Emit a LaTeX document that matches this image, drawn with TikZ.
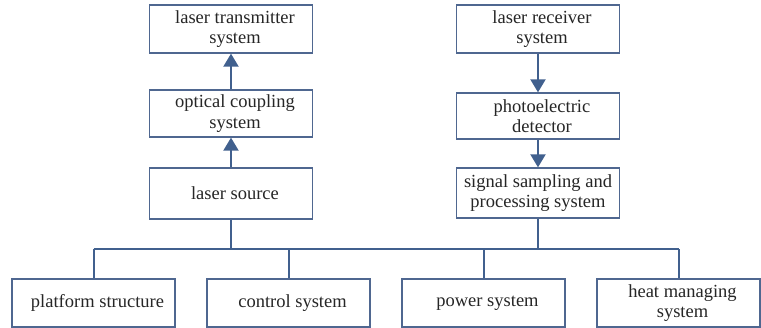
\documentclass[tikz,border=0pt]{standalone}
\usepackage{fontspec}
\setmainfont{Liberation Serif}
\newfontfamily\blockfont{Liberation Serif}
\usetikzlibrary{arrows.meta}
\definecolor{boxline}{HTML}{4F6790}
\definecolor{linkline}{HTML}{41608E}
% text inside the boxes sits a little right of centre
\newcommand{\ind}{\hspace*{8pt}}
\tikzset{
  block/.style={draw=boxline, line width=1.3pt, fill=white, inner sep=0pt,
    minimum width=163pt, align=center, text=black!85,
    font=\blockfont\fontsize{18.5}{20.5}\selectfont},
  link/.style={draw=linkline, line width=2pt},
  flow/.style={link, -{Triangle[width=15pt,length=13pt]}},
}
\begin{document}
\begin{tikzpicture}[x=1pt,y=-1pt]
\useasboundingbox (0,0) rectangle (761,328);

% transmitting chain
\node[block, minimum height=48pt] (tx) at (231,29)    {\ind laser transmitter\\\ind system};
\node[block, minimum height=47pt] (oc) at (231,113.5) {\ind optical coupling\\\ind system};
\node[block, minimum height=51pt] (ls) at (231,193.5) {\ind laser source};

% receiving chain
\node[block, minimum height=48pt] (rx) at (538,29)  {\ind laser receiver\\\ind system};
\node[block, minimum height=46pt] (pd) at (538,116) {\ind photoelectric\\\ind detector};
\node[block, minimum height=50pt] (ss) at (538,193) {signal sampling and\\processing system};

% supporting subsystems
\node[block, minimum height=48pt] (ps) at (93.5,303)  {\ind platform structure};
\node[block, minimum height=48pt] (cs) at (288.5,303) {\ind control system};
\node[block, minimum height=48pt] (pw) at (483.5,303) {\ind power system};
\node[block, minimum height=48pt] (hm) at (678.5,303) {\ind heat managing\\\ind system};

% arrows between stages
\draw[flow] (ls.north) -- (oc.south);
\draw[flow] (oc.north) -- (tx.south);
\draw[flow] (rx.south) -- (pd.north);
\draw[flow] (pd.south) -- (ss.north);

% distribution bus
\coordinate (busL) at (93.5,249);
\coordinate (busR) at (678.5,249);
\draw[link] (busL) -- (busR);
\draw[link] (ls.south) -- (ls.south |- busL);
\draw[link] (ss.south) -- (ss.south |- busL);
\draw[link] (ps.north) -- (ps.north |- busL);
\draw[link] (cs.north) -- (cs.north |- busL);
\draw[link] (pw.north) -- (pw.north |- busL);
\draw[link] (hm.north) -- (hm.north |- busL);
\end{tikzpicture}
\end{document}
